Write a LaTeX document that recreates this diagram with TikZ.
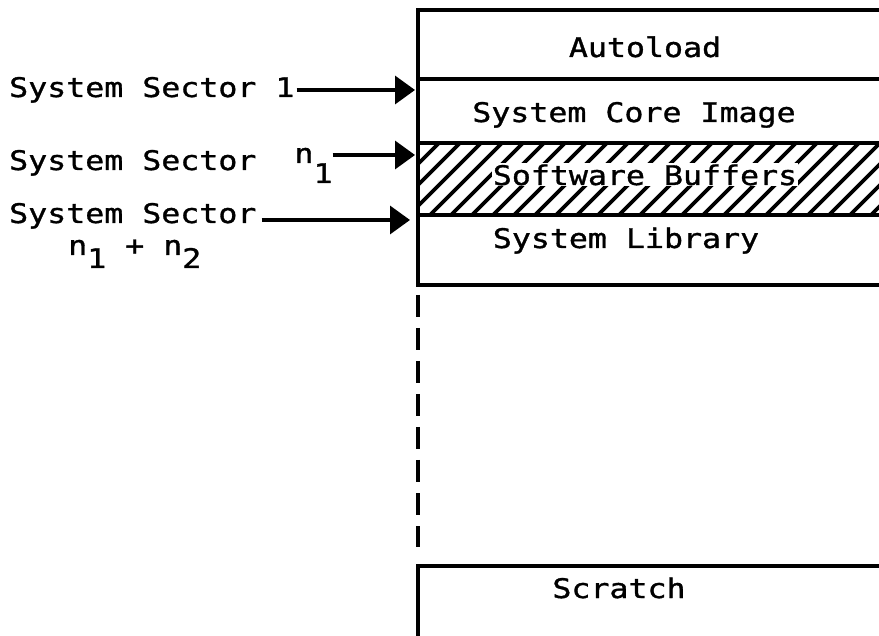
\documentclass[tikz,border=0pt]{standalone}
\usepackage{fontspec}
\newfontfamily\dotfont[FakeStretch=1.17,FakeBold=1.2]{DejaVu Sans Mono}
\usetikzlibrary{arrows.meta}
\begin{document}
\begin{tikzpicture}[x=1pt,y=-1pt,
  lbl/.style={font=\dotfont\fontsize{27}{32}\selectfont, inner sep=0pt},
  wall/.style={line width=4pt},
  ptr/.style={line width=3.4pt, -{Triangle[length=20pt,width=28pt]}},
  hatchline/.style={line width=3.6pt},
  gapline/.style={line width=3.6pt, dash pattern=on 22pt off 11pt}]
\useasboundingbox (0,0) rectangle (879,636);

% corner coordinates
\coordinate (tl) at (418,10);
\coordinate (tr) at (879,10);
\coordinate (bl) at (418,285);
\coordinate (br) at (879,285);
\coordinate (d1l) at (418,79);
\coordinate (d1r) at (879,79);
\coordinate (d2l) at (418,143);
\coordinate (d2r) at (879,143);
\coordinate (d3l) at (418,215);
\coordinate (d3r) at (879,215);
\coordinate (gtop) at (418,295);
\coordinate (gbot) at (418,547);
\coordinate (sl) at (418,566);
\coordinate (sr) at (879,566);
\coordinate (sb) at (418,636);

% hatching
\begin{scope}
  \clip (d2l) rectangle (d3r);
  \foreach \i in {0,...,27} \draw[hatchline] ({346+\i*21},215) -- ++(72,-72);
\end{scope}

% box
\draw[wall] (tr) -- (tl) -- (bl) -- (br);
\draw[wall] (d1l) -- (d1r);
\draw[wall] (d2l) -- (d2r);
\draw[wall] (d3l) -- (d3r);
\draw[gapline] (gtop) -- (gbot);
\draw[wall] (sb) -- (sl) -- (sr);

% region labels
\node[lbl, anchor=base] (auto) at (645,57) {Autoload};
\node[lbl, anchor=base] (core) at (634,122) {System Core Image};
\node[lbl, anchor=base, fill=white, inner xsep=0.5pt, inner ysep=1pt] (buf) at (645,185) {Software Buffers};
\node[lbl, anchor=base] (lib) at (626,248) {System Library};
\node[lbl, anchor=base] (scr) at (619,598) {Scratch};

% left labels
\node[lbl, anchor=base west] (r1) at (9,97) {System Sector 1};
\node[lbl, anchor=base west] (r2) at (9,170) {System Sector~~\raisebox{7pt}{n}\raisebox{-13pt}{1}};
\node[lbl, anchor=base west] (r3) at (9,223) {System Sector};
\node[lbl, anchor=base west] (r4) at (68,255) {n\raisebox{-13pt}{1} + n\raisebox{-13pt}{2}};

% pointers
\coordinate (t1) at (415,90);
\coordinate (t2) at (415,155);
\coordinate (t3) at (410,220);
\draw[ptr] ([xshift=2pt]r1.east |- t1) -- (t1);
\draw[ptr] ([xshift=0pt]r2.east |- t2) -- (t2);
\draw[ptr] ([xshift=5pt]r3.east |- t3) -- (t3);
\end{tikzpicture}
\end{document}
